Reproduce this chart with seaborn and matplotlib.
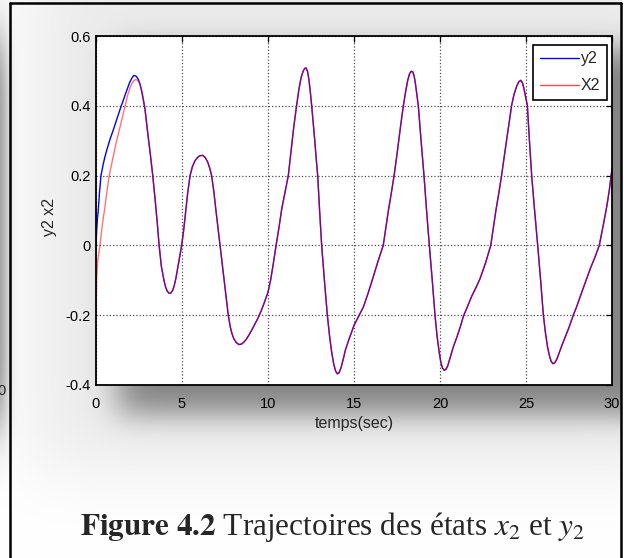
import math
import numpy as np
import pandas as pd
import matplotlib
matplotlib.use("Agg")
import matplotlib.pyplot as plt
from matplotlib.lines import Line2D
import seaborn as sns

# ---- sampled trajectories -------------------------------------------------
# start-up transient of y2 (the two states differ only here)
t_y2_start = [0.0, 0.04, 0.08, 0.13, 0.2, 0.29, 0.4, 0.5, 0.62, 0.8, 1.0, 1.2,
              1.4, 1.6, 1.78, 1.95, 2.07, 2.2, 2.33, 2.46, 2.56, 2.65]
y2_start = [0.0, 0.043, 0.075, 0.10, 0.15, 0.20, 0.228, 0.25, 0.272, 0.302,
            0.33, 0.36, 0.39, 0.418, 0.443, 0.466, 0.478, 0.487, 0.485, 0.476,
            0.462, 0.443]

# start-up transient of x2
t_x2_start = [0.0, 0.02, 0.04, 0.1, 0.23, 0.37, 0.52, 0.65, 0.77, 1.0, 1.2,
              1.45, 1.69, 1.85, 1.98, 2.12, 2.27, 2.4, 2.52, 2.62, 2.7]
x2_start = [-0.2, -0.14, -0.09, -0.045, 0.0, 0.06, 0.11, 0.16, 0.2, 0.255, 0.3,
            0.35, 0.4, 0.432, 0.452, 0.467, 0.475, 0.474, 0.466, 0.452, 0.435]

# common part of both trajectories once they have converged
t_common = [2.75, 2.85, 3.0, 3.15, 3.3, 3.45, 3.57, 3.67, 3.8, 3.95, 4.05, 4.15,
            4.25, 4.34, 4.45, 4.55, 4.65, 4.75, 4.87, 4.98, 5.1, 5.2, 5.33, 5.47,
            5.6, 5.75, 5.9, 6.05, 6.2, 6.35, 6.5, 6.62, 6.72, 6.85, 6.95, 7.08,
            7.21, 7.33, 7.45, 7.57, 7.69, 7.8, 7.9, 8.0, 8.15, 8.3, 8.45, 8.6,
            8.75, 8.9, 9.05, 9.2, 9.4, 9.6, 9.8, 10.0, 10.15, 10.3, 10.47, 10.65,
            10.8, 11.0, 11.18, 11.35, 11.5, 11.66, 11.8, 11.93, 12.05, 12.15,
            12.22, 12.3, 12.38, 12.46, 12.54, 12.63, 12.72, 12.8, 12.89, 13.0,
            13.12, 13.28, 13.45, 13.58, 13.7, 13.82, 13.93, 14.03, 14.13, 14.25,
            14.38, 14.5, 14.7, 14.85, 15.0, 15.25, 15.54, 15.8, 16.12, 16.4,
            16.7, 16.85, 17.0, 17.17, 17.33, 17.47, 17.6, 17.73, 17.87, 18.0,
            18.12, 18.23, 18.33, 18.42, 18.5, 18.58, 18.66, 18.74, 18.9, 19.07,
            19.22, 19.38, 19.55, 19.71, 19.83, 19.95, 20.05, 20.15, 20.25, 20.35,
            20.45, 20.6, 20.78, 21.0, 21.2, 21.36, 21.6, 21.85, 22.1, 22.33,
            22.65, 22.95, 23.1, 23.25, 23.42, 23.58, 23.75, 23.9, 24.03, 24.16,
            24.3, 24.45, 24.58, 24.7, 24.8, 24.9, 25.0, 25.08, 25.2, 25.33, 25.5,
            25.68, 25.85, 26.01, 26.13, 26.25, 26.37, 26.47, 26.57, 26.68, 26.8,
            26.95, 27.1, 27.3, 27.5, 27.75, 27.95, 28.2, 28.53, 28.75, 29.0,
            29.26, 29.5, 29.69, 29.85, 30.0]
v_common = [0.418, 0.39, 0.325, 0.265, 0.20, 0.125, 0.06, 0.0, -0.06, -0.10,
            -0.12, -0.132, -0.137, -0.137, -0.13, -0.115, -0.093, -0.065, -0.033,
            0.0, 0.045, 0.09, 0.15, 0.20, 0.225, 0.242, 0.252, 0.257, 0.258,
            0.252, 0.238, 0.22, 0.20, 0.155, 0.11, 0.055, 0.0, -0.05, -0.10,
            -0.15, -0.20, -0.232, -0.252, -0.266, -0.278, -0.284, -0.283, -0.277,
            -0.268, -0.256, -0.243, -0.229, -0.21, -0.188, -0.162, -0.134, -0.10,
            -0.055, 0.0, 0.055, 0.105, 0.155, 0.20, 0.275, 0.34, 0.40, 0.448,
            0.482, 0.50, 0.508, 0.508, 0.498, 0.475, 0.44, 0.40, 0.35, 0.30,
            0.25, 0.20, 0.10, 0.0, -0.10, -0.20, -0.26, -0.305, -0.34, -0.36,
            -0.368, -0.365, -0.35, -0.325, -0.30, -0.27, -0.25, -0.229, -0.205,
            -0.177, -0.14, -0.09, -0.045, 0.0, 0.05, 0.10, 0.15, 0.20, 0.25,
            0.30, 0.35, 0.40, 0.44, 0.472, 0.492, 0.499, 0.497, 0.485, 0.46,
            0.43, 0.40, 0.30, 0.20, 0.10, 0.0, -0.10, -0.20, -0.26, -0.305,
            -0.335, -0.352, -0.358, -0.355, -0.345, -0.32, -0.29, -0.26, -0.23,
            -0.203, -0.175, -0.145, -0.12, -0.095, -0.05, 0.0, 0.05, 0.10, 0.15,
            0.20, 0.26, 0.31, 0.355, 0.40, 0.432, 0.455, 0.469, 0.473, 0.465,
            0.445, 0.42, 0.40, 0.30, 0.20, 0.10, 0.0, -0.10, -0.20, -0.25, -0.29,
            -0.318, -0.333, -0.339, -0.336, -0.325, -0.305, -0.285, -0.26,
            -0.235, -0.20, -0.175, -0.14, -0.095, -0.065, -0.035, 0.0, 0.06,
            0.11, 0.16, 0.22]

x_ticks = [0, 5, 10, 15, 20, 25, 30]
y_ticks = [-0.4, -0.2, 0, 0.2, 0.4, 0.6]
y_tick_labels = ["-0.4", "-0.2", "0", "0.2", "0.4", "0.6"]

df_y2 = pd.DataFrame({"t": t_y2_start + t_common, "v": y2_start + v_common})
df_x2 = pd.DataFrame({"t": t_x2_start + t_common, "v": x2_start + v_common})

# ---- figure -----------------------------------------------------------------
W, H = 624, 558
sns.set_style("white")
plt.rcParams["font.family"] = ["Liberation Sans", "DejaVu Sans"]
plt.rcParams["mathtext.fontset"] = "stix"

fig = plt.figure(figsize=(W / 100, H / 100), dpi=100)
fig.patch.set_facecolor("white")


def soft_band(n, a, b, s):
    xs = np.arange(n) + 0.5
    erf = np.vectorize(math.erf)
    return 0.5 * (erf((xs - a) / (s * math.sqrt(2))) - erf((xs - b) / (s * math.sqrt(2))))


# drop shadow behind the plot frame
shade = 0.40 * soft_band(H, 50, 414, 15)[:, None] * soft_band(W, 118, 660, 16)[None, :]
shade += 0.08 * soft_band(H, -60, 470, 35)[:, None] * soft_band(W, 30, 700, 40)[None, :]
shade += 0.36 * soft_band(H, 40, 425, 30)[:, None] * soft_band(W, -60, 7, 5)[None, :]
shade[:, 622:] = 0
gray = np.clip(1 - shade, 0, 1)
rgb = (np.dstack([gray, gray, gray]) * 255).astype(np.uint8)
fig.figimage(rgb, 0, 0, origin="upper", zorder=0)

ax = fig.add_axes([96 / W, 1 - 385 / H, (612 - 96) / W, (385 - 36) / H], zorder=2)
ax.set_facecolor("white")

sns.lineplot(data=df_y2, x="t", y="v", ax=ax, color="blue", lw=1.0,
             estimator=None, sort=False)
sns.lineplot(data=df_x2, x="t", y="v", ax=ax, color="red", lw=1.0, alpha=0.55,
             estimator=None, sort=False)

ax.set_xlim(0, 30)
ax.set_ylim(-0.4, 0.6)
ax.set_xticks(x_ticks)
ax.set_xticklabels([str(v) for v in x_ticks])
ax.set_yticks(y_ticks)
ax.set_yticklabels(y_tick_labels)
ax.grid(True, linestyle=":", color="0.3", linewidth=0.9)
ax.tick_params(direction="in", top=True, right=True, length=4, width=0.9,
               labelsize=10.5, colors="black")
ax.tick_params(axis="x", pad=9)
ax.tick_params(axis="y", pad=4)
for sp in ax.spines.values():
    sp.set_visible(True)
    sp.set_color("black")
    sp.set_linewidth(1.3)

ax.set_xlabel("temps(sec)", fontsize=11.5, labelpad=3)
ax.set_ylabel("y2 x2", fontsize=11.5)
ax.yaxis.set_label_coords(-0.0756, 0.48)

handles = [Line2D([], [], color="blue", lw=1.0),
           Line2D([], [], color="red", lw=1.0, alpha=0.7)]
leg = ax.legend(handles, ["y2", "X2"], loc="upper right",
                bbox_to_anchor=(0.99, 0.974), borderaxespad=0, frameon=True,
                fancybox=False, framealpha=1, edgecolor="black",
                handlelength=2.5, handletextpad=0.1, borderpad=0.4,
                labelspacing=0.75, fontsize=11.5)
leg.get_frame().set_linewidth(1.2)

# page frame around the figure block
fig.add_artist(Line2D([10 / W, 10 / W], [0, 1 - 3 / H], color="black", lw=1.8,
                      transform=fig.transFigure))
fig.add_artist(Line2D([10 / W, 621 / W], [1 - 3 / H, 1 - 3 / H], color="black",
                      lw=1.8, transform=fig.transFigure))
fig.add_artist(Line2D([621 / W, 621 / W], [0, 1 - 3 / H], color="black", lw=1.8,
                      transform=fig.transFigure))
fig.text(1 / W, 1 - 391 / H, "0", ha="center", va="center", fontsize=10.5)

fig.text(80 / W, 1 - 535 / H,
         r"$\mathbf{Figure\ 4.2}$ Trajectoires des états $x_2$ et $y_2$",
         family="Liberation Serif", fontsize=22.5, ha="left", va="baseline")

fig.savefig("out.png", dpi=100)
